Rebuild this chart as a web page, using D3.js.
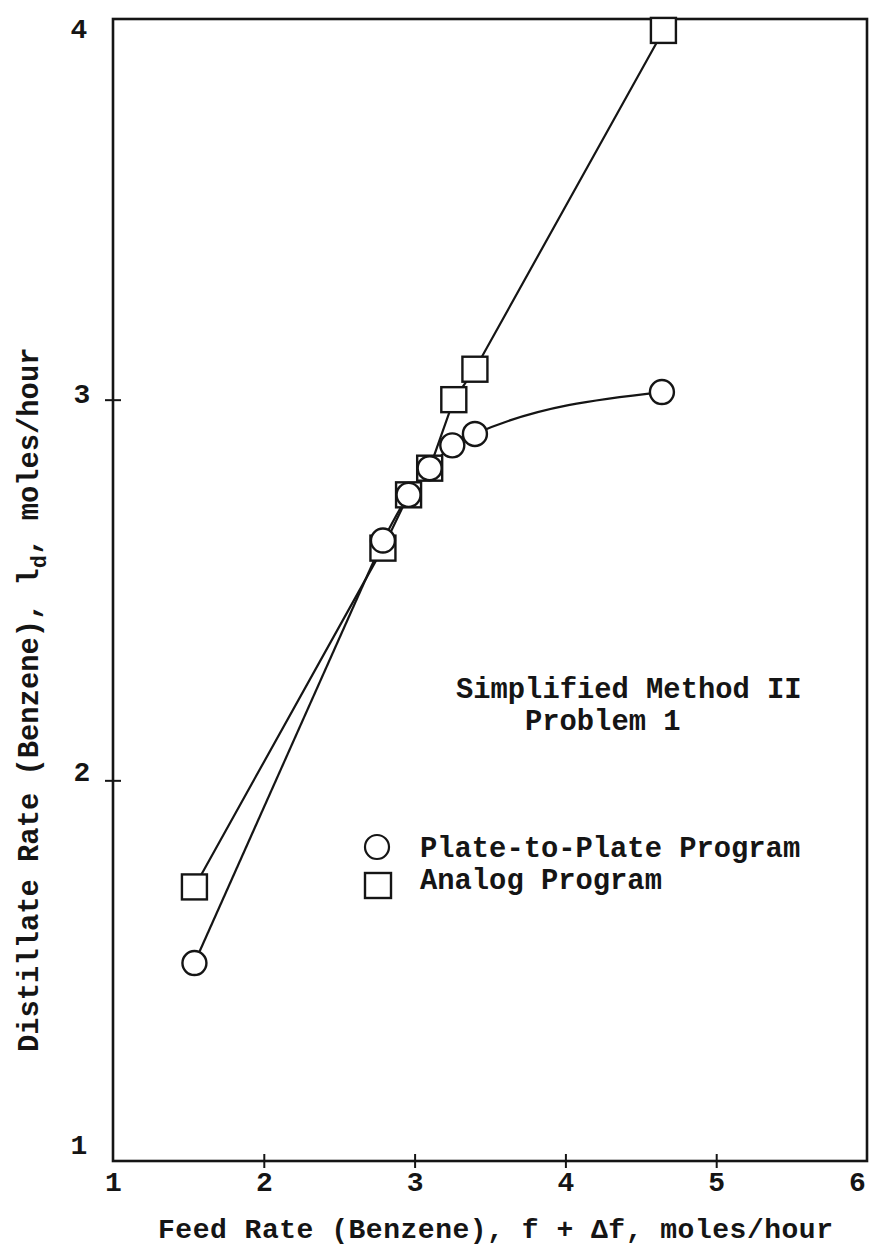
<!DOCTYPE html>
<html>
<head>
<meta charset="utf-8">
<script src="https://cdn.jsdelivr.net/npm/d3@7"></script>
<style>
  body { margin: 0; background: #fff; }
  text { font-family: "Liberation Mono", "DejaVu Sans Mono", monospace; font-weight: bold; fill: #151515; }
</style>
</head>
<body>
<svg id="chart" width="872" height="1250"></svg>
<script>
// Plate-to-plate (circles) and analog (squares) results, moles/hour
const plateFeed    = [1.54, 2.79, 2.96, 3.10, 3.25, 3.40, 4.64];
const plateDist    = [1.52, 2.63, 2.75, 2.82, 2.88, 2.91, 3.02];
const analogFeed   = [1.54, 2.79, 2.96, 3.10, 3.26, 3.40, 4.65];
const analogDist   = [1.72, 2.61, 2.75, 2.82, 3.00, 3.08, 3.97];

const xTickValues  = [1, 2, 3, 4, 5, 6];
const yTickValues  = [1, 2, 3, 4];
const xTitle       = "Feed Rate (Benzene), f + Δf, moles/hour";
const yTitleHead   = "Distillate Rate (Benzene), l";
const yTitleSub    = "d";
const yTitleTail   = ", moles/hour";
const noteLines    = ["Simplified Method II", "Problem 1"];
const legendLabels = ["Plate-to-Plate Program", "Analog Program"];

const ink = "#151515";
const svg = d3.select("#chart");

const x = d3.scaleLinear().domain([1, 6]).range([113, 867]);
const y = d3.scaleLinear().domain([1, 4]).range([1161, 19]);

const plate  = plateFeed.map((f, i) => ({ f, d: plateDist[i] }));
const analog = analogFeed.map((f, i) => ({ f, d: analogDist[i] }));

// frame
svg.append("rect")
  .attr("x", x(1)).attr("y", y(4))
  .attr("width", x(6) - x(1)).attr("height", y(1) - y(4))
  .attr("fill", "none").attr("stroke", ink).attr("stroke-width", 2.6);

// bottom axis: ticks cross the frame line
const xAxis = svg.append("g")
  .attr("transform", `translate(0,${y(1)})`)
  .call(d3.axisBottom(x).tickValues(xTickValues).tickSize(7).tickFormat(d3.format("d")));
xAxis.select(".domain").remove();
xAxis.selectAll(".tick line")
  .attr("y1", -7).attr("stroke", ink).attr("stroke-width", 2)
  .attr("display", d => (d === 1 || d === 6) ? "none" : null);
xAxis.selectAll(".tick text")
  .attr("y", 30).attr("dy", 0)
  .attr("x", d => d === 6 ? -10 : 0)
  .style("font-size", "28px").style("font-family", null).attr("fill", ink);

// left axis
const yAxis = svg.append("g")
  .attr("transform", `translate(${x(1)},0)`)
  .call(d3.axisLeft(y).tickValues(yTickValues).tickSize(8).tickFormat(d3.format("d")));
yAxis.select(".domain").remove();
yAxis.selectAll(".tick line")
  .attr("x1", 8).attr("stroke", ink).attr("stroke-width", 2)
  .attr("display", d => (d === 1 || d === 4) ? "none" : null);
const yLabelShift = d => d === 1 ? -8 : d === 4 ? 18 : d === 3 ? 3 : 0;
yAxis.selectAll(".tick text")
  .attr("x", d => (d === 1 || d === 4) ? -34 : -31).attr("dy", 0)
  .attr("y", d => yLabelShift(d))
  .attr("text-anchor", "middle")
  .style("font-size", "28px").style("font-family", null).attr("fill", ink);

// axis titles
svg.append("text")
  .attr("x", 158).attr("y", 1238)
  .attr("textLength", 675).attr("lengthAdjust", "spacing")
  .style("font-size", "28px")
  .text(xTitle);

const yTitle = svg.append("text")
  .attr("transform", "translate(38,1052) rotate(-90)")
  .style("font-size", "28.8px");
yTitle.append("tspan").text(yTitleHead);
yTitle.append("tspan").attr("dy", 8).style("font-size", "22px").text(yTitleSub);
yTitle.append("tspan").attr("dy", -8).text(yTitleTail);

// connecting lines
const lineGen = d3.line().x(p => x(p.f)).y(p => y(p.d));
svg.append("path")
  .attr("d", lineGen.curve(d3.curveLinear)(analog))
  .attr("fill", "none").attr("stroke", ink).attr("stroke-width", 2.2);
svg.append("path")
  .attr("d", lineGen.curve(d3.curveLinear)(plate.slice(0, 2)))
  .attr("fill", "none").attr("stroke", ink).attr("stroke-width", 2.2);
svg.append("path")
  .attr("d", lineGen.curve(d3.curveMonotoneX)(plate.slice(1)))
  .attr("fill", "none").attr("stroke", ink).attr("stroke-width", 2.2);

// markers
const sq = 25;
svg.append("g").selectAll("rect").data(analog).join("rect")
  .attr("x", p => x(p.f) - sq / 2).attr("y", p => y(p.d) - sq / 2)
  .attr("width", sq).attr("height", sq)
  .attr("fill", "#fff").attr("stroke", ink).attr("stroke-width", 2.4);
svg.append("g").selectAll("circle").data(plate).join("circle")
  .attr("cx", p => x(p.f)).attr("cy", p => y(p.d)).attr("r", 12)
  .attr("fill", "#fff").attr("stroke", ink).attr("stroke-width", 2.4);

// note
svg.append("text").attr("x", 456).attr("y", 698)
  .style("font-size", "28.8px").text(noteLines[0]);
svg.append("text").attr("x", 525).attr("y", 730)
  .style("font-size", "28.8px").text(noteLines[1]);

// legend
const legend = svg.append("g");
legend.append("circle").attr("cx", 377).attr("cy", 847).attr("r", 12)
  .attr("fill", "#fff").attr("stroke", ink).attr("stroke-width", 2.2);
legend.append("rect").attr("x", 365).attr("y", 873).attr("width", 26).attr("height", 25)
  .attr("fill", "#fff").attr("stroke", ink).attr("stroke-width", 2.4);
legend.append("text").attr("x", 420).attr("y", 857)
  .style("font-size", "28.8px").text(legendLabels[0]);
legend.append("text").attr("x", 420).attr("y", 889)
  .style("font-size", "28.8px").text(legendLabels[1]);
</script>
</body>
</html>
